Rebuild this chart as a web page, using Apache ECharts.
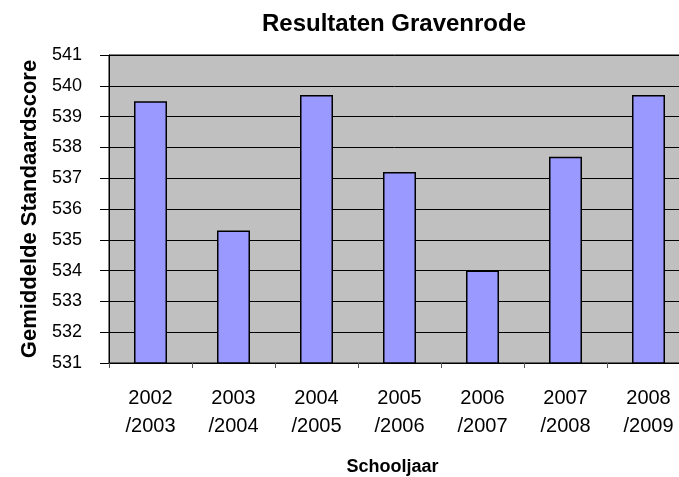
<!DOCTYPE html>
<html>
<head>
<meta charset="utf-8">
<script src="https://cdn.jsdelivr.net/npm/echarts@6/dist/echarts.min.js"></script>
<style>
html, body { margin: 0; padding: 0; background: #fff; overflow: hidden; }
#chart { width: 679px; height: 477px; }
</style>
</head>
<body>
<div id="chart"></div>
<script>
// schooljaren en gemiddelde standaardscore
var categories = ['2002\n/2003', '2003\n/2004', '2004\n/2005', '2005\n/2006', '2006\n/2007', '2007\n/2008', '2008\n/2009'];
var scores = [539.5, 535.3, 539.7, 537.2, 534.0, 537.7, 539.7];

var myChart = echarts.init(document.getElementById('chart'));

var option = {
    animation: false,
    backgroundColor: '#ffffff',
    title: {
        text: 'Resultaten Gravenrode',
        left: 389,
        textAlign: 'center',
        top: 7,
        textStyle: {
            fontFamily: 'Liberation Sans, Arial',
            fontSize: 24,
            fontWeight: 'bold',
            color: '#000'
        }
    },
    // het plotgebied loopt in het origineel iets buiten het beeld door
    grid: {
        left: 109,
        right: -11,
        top: 55,
        bottom: 114,
        outerBoundsMode: 'none',
        show: true,
        backgroundColor: '#c0c0c0',
        borderColor: '#000',
        borderWidth: 1
    },
    xAxis: {
        type: 'category',
        data: categories,
        name: 'Schooljaar',
        nameLocation: 'middle',
        nameGap: 95,
        nameTextStyle: {
            fontFamily: 'Liberation Sans, Arial',
            fontSize: 18,
            fontWeight: 'bold',
            color: '#000',
            padding: [0, 14, 0, 0]
        },
        axisLine: { lineStyle: { color: '#000', width: 1 } },
        axisTick: { show: true, alignWithLabel: false, length: 5, lineStyle: { color: '#555' } },
        axisLabel: {
            fontFamily: 'Liberation Sans, Arial',
            fontSize: 20,
            color: '#000',
            lineHeight: 28,
            margin: 21
        }
    },
    yAxis: {
        type: 'value',
        min: 531,
        max: 541,
        interval: 1,
        name: 'Gemiddelde Standaardscore',
        nameLocation: 'middle',
        nameGap: 66,
        nameTextStyle: {
            fontFamily: 'Liberation Sans, Arial',
            fontSize: 22,
            fontWeight: 'bold',
            color: '#000'
        },
        axisLine: { show: true, lineStyle: { color: '#000', width: 1 } },
        axisTick: { show: true, length: 9, lineStyle: { color: '#000' } },
        axisLabel: {
            fontFamily: 'Liberation Sans, Arial',
            fontSize: 18,
            color: '#000',
            margin: 27
        },
        splitLine: { show: true, lineStyle: { color: '#000', width: 1 } }
    },
    series: [{
        type: 'bar',
        data: scores,
        barWidth: 33,
        itemStyle: {
            color: '#9999ff',
            borderColor: '#000',
            borderWidth: 1.5
        }
    }]
};

myChart.setOption(option);
</script>
</body>
</html>
